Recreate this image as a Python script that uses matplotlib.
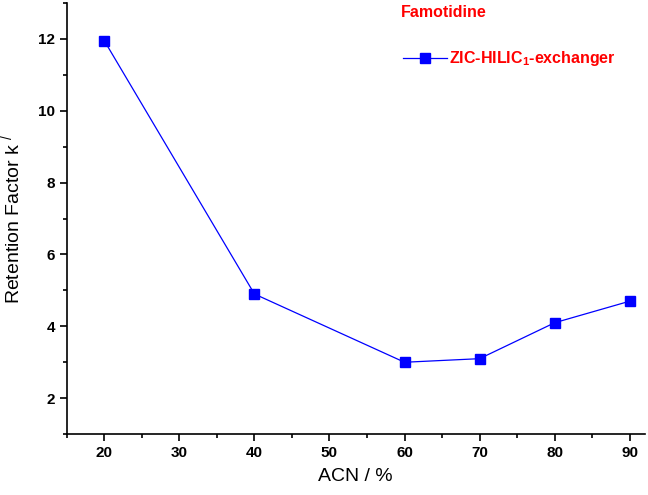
import matplotlib.pyplot as plt
from matplotlib.ticker import MultipleLocator

plt.rcParams['font.family'] = ['Liberation Sans', 'DejaVu Sans']
plt.rcParams['mathtext.fontset'] = 'custom'
plt.rcParams['mathtext.rm'] = 'Liberation Sans'
plt.rcParams['mathtext.bf'] = 'Liberation Sans:bold'

# data
acn = [20, 40, 60, 70, 80, 90]
k_factor = [11.95, 4.9, 3.0, 3.1, 4.1, 4.7]
x_ticks = [20, 30, 40, 50, 60, 70, 80, 90]
y_ticks = [2, 4, 6, 8, 10, 12]
series_name = 'ZIC-HILIC$\\mathbf{_1}$-exchanger'

fig = plt.figure(figsize=(6.48, 4.95), dpi=100)
ax = fig.add_axes([0.103, 0.123, 0.892, 0.871])

ax.plot(acn, k_factor, color='#0000ff', lw=0.9, marker='s', ms=6.5,
        mfc='#0000ff', mec='#0000ff', label=series_name)

ax.set_xlim(15, 92)
ax.set_ylim(1, 13)
ax.set_xticks(x_ticks)
ax.set_yticks(y_ticks)
ax.xaxis.set_minor_locator(MultipleLocator(5))
ax.yaxis.set_minor_locator(MultipleLocator(1))

for s in ['top', 'right']:
    ax.spines[s].set_visible(False)
for s in ['left', 'bottom']:
    ax.spines[s].set_linewidth(1.2)

ax.tick_params(which='major', direction='out', length=5, width=1.2, labelsize=11)
ax.tick_params(which='minor', direction='out', length=3, width=1.2)
for lbl in ax.get_xticklabels() + ax.get_yticklabels():
    lbl.set_fontweight('bold')

ax.set_xlabel('ACN / %', fontsize=14, labelpad=6)
ax.set_ylabel('Retention Factor k $^{/}$', fontsize=14, labelpad=10)

# title and legend
fig.text(0.619, 0.975, 'Famotidine', color='red', fontsize=11.5, fontweight='bold',
         ha='left', va='center')
leg = ax.legend(loc='center left', bbox_to_anchor=(0.572, 0.872),
                frameon=False, handlelength=3.2, handletextpad=0.15, borderaxespad=0)
for t in leg.get_texts():
    t.set_color('red')
    t.set_fontweight('bold')
    t.set_fontsize(11.5)

fig.savefig('out.png', dpi=100)
